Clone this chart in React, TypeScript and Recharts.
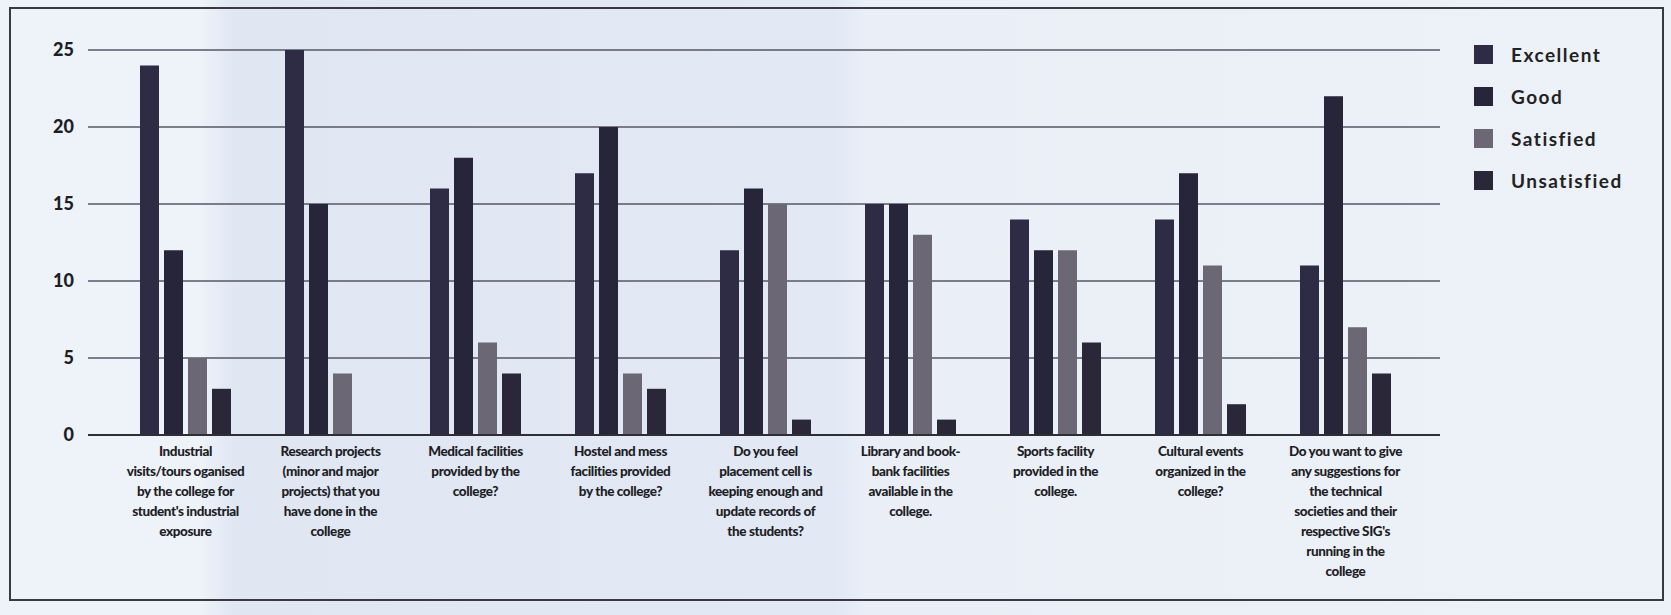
import React from 'react';
import { BarChart, Bar, XAxis, YAxis, CartesianGrid, Legend } from 'recharts';

// questions asked in the survey, line breaks as in the printed chart
const categories = [
  "Industrial\nvisits/tours oganised\nby the college for\nstudent's industrial\nexposure",
  'Research projects\n(minor and major\nprojects) that you\nhave done in the\ncollege',
  'Medical facilities\nprovided by the\ncollege?',
  'Hostel and mess\nfacilities provided\nby the college?',
  'Do you feel\nplacement cell is\nkeeping enough and\nupdate records of\nthe students?',
  'Library and book-\nbank facilities\navailable in the\ncollege.',
  'Sports facility\nprovided in the\ncollege.',
  'Cultural events\norganized in the\ncollege?',
  "Do you want to give\nany suggestions for\nthe technical\nsocieties and their\nrespective SIG's\nrunning in the\ncollege",
];

const excellent = [24, 25, 16, 17, 12, 15, 14, 14, 11];
const good = [12, 15, 18, 20, 16, 15, 12, 17, 22];
const satisfied = [5, 4, 6, 4, 15, 13, 12, 11, 7];
const unsatisfied = [3, 0, 4, 3, 1, 1, 6, 2, 4];

const yTicks = [0, 5, 10, 15, 20, 25];

const series = [
  { key: 'Excellent', values: excellent, color: '#2e2c45' },
  { key: 'Good', values: good, color: '#27253a' },
  { key: 'Satisfied', values: satisfied, color: '#6b6775' },
  { key: 'Unsatisfied', values: unsatisfied, color: '#2a2739' },
];

const data = categories.map((name, i) => {
  const row: Record<string, string | number> = { name };
  series.forEach(s => {
    row[s.key] = s.values[i];
  });
  return row;
});

const CategoryTick = (props: any) => {
  const { x, y, payload } = props;
  const lines = String(payload.value).split('\n');
  return (
    <text
      x={x}
      y={y}
      textAnchor="middle"
      fill="#1e1e26"
      fontFamily="Lato, sans-serif"
      fontWeight={900}
      fontSize={13.5}
      letterSpacing={-0.4}
    >
      {lines.map((line, i) => (
        <tspan key={i} x={x} dy={i === 0 ? 13 : 20}>
          {line}
        </tspan>
      ))}
    </text>
  );
};

const LegendBox = () => (
  <div style={{ fontFamily: 'Lato, sans-serif' }}>
    {series.map(s => (
      <div key={s.key} style={{ display: 'flex', alignItems: 'center', height: 42 }}>
        <span style={{ width: 19, height: 19, background: s.color, display: 'inline-block', marginRight: 18 }} />
        <span style={{ fontSize: 19, letterSpacing: 1.5, color: '#222', fontWeight: 700 }}>{s.key}</span>
      </div>
    ))}
  </div>
);

export default function App() {
  return (
    <div
      style={{
        position: 'absolute',
        left: 0,
        top: 0,
        width: 1671,
        height: 615,
        overflow: 'hidden',
        background: 'linear-gradient(90deg, #eef2f9 0%, #eef2f9 12%, #e0e7f3 14%, #e2e9f5 50%, #eaeff7 52%, #edf1f8 100%)',
      }}
    >
      <div
        style={{
          position: 'absolute',
          left: 9,
          top: 7,
          width: 1655,
          height: 594,
          border: '2px solid #3a3a44',
          boxSizing: 'border-box',
        }}
      />
      <BarChart
        width={1671}
        height={615}
        data={data}
        margin={{ top: 50, right: 231, bottom: 0, left: 0 }}
        barSize={19}
        barGap={5}
        style={{ position: 'absolute', left: 0, top: 0 }}
      >
        <CartesianGrid vertical={false} stroke="#545866" strokeWidth={1.6} />
        <XAxis
          dataKey="name"
          interval={0}
          height={180}
          tickLine={false}
          axisLine={{ stroke: '#2e2e36', strokeWidth: 2 }}
          tick={<CategoryTick />}
          padding={{ left: 25, right: 22 }}
        />
        <YAxis
          domain={[0, 25]}
          ticks={yTicks}
          width={88}
          tickLine={false}
          axisLine={false}
          tickMargin={8}
          tick={{ fill: '#1e1e26', fontFamily: 'Lato, sans-serif', fontWeight: 900, fontSize: 18 }}
        />
        <Legend
          layout="vertical"
          align="center"
          verticalAlign="middle"
          content={<LegendBox />}
          wrapperStyle={{ left: 1474, top: 33, width: 190 }}
        />
        {series.map(s => (
          <Bar key={s.key} dataKey={s.key} fill={s.color} isAnimationActive={false} />
        ))}
      </BarChart>
    </div>
  );
}
